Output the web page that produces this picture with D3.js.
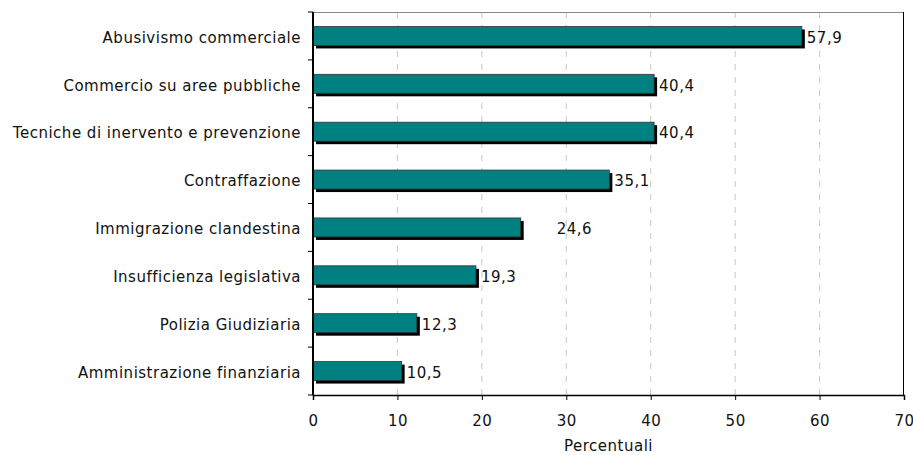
<!DOCTYPE html>
<html>
<head>
<meta charset="utf-8">
<script src="https://cdn.jsdelivr.net/npm/d3@7"></script>
<style>
  body { margin: 0; background: #fff; }
  text { font-family: "DejaVu Sans", Verdana, sans-serif; fill: #111; letter-spacing: 0.5px; }
</style>
</head>
<body>
<svg id="chart" width="913" height="455"></svg>
<script>
// categorie e valori (percentuali)
const categories = [
  "Abusivismo commerciale",
  "Commercio su aree pubbliche",
  "Tecniche di inervento e prevenzione",
  "Contraffazione",
  "Immigrazione clandestina",
  "Insufficienza legislativa",
  "Polizia Giudiziaria",
  "Amministrazione finanziaria"
];
const values = [57.9, 40.4, 40.4, 35.1, 24.6, 19.3, 12.3, 10.5];
const labels = ["57,9", "40,4", "40,4", "35,1", "24,6", "19,3", "12,3", "10,5"];
const xTicks = [0, 10, 20, 30, 40, 50, 60, 70];

const margin = { top: 12, right: 9, bottom: 60, left: 313 };
const width = 913, height = 455;
const fontSize = 15;
const svg = d3.select("#chart");

const x = d3.scaleLinear().domain([0, 70]).range([margin.left, width - margin.right]);
const y = d3.scaleBand().domain(categories).range([margin.top, height - margin.bottom]);

// griglia tratteggiata
svg.append("g").selectAll("line")
  .data(xTicks.slice(1, -1))
  .join("line")
  .attr("x1", d => x(d)).attr("x2", d => x(d))
  .attr("y1", margin.top).attr("y2", height - margin.bottom)
  .attr("stroke", "#c8c8c8")
  .attr("stroke-dasharray", "6,7");

// bordo superiore e destro
svg.append("line")
  .attr("x1", x(0)).attr("x2", x(70))
  .attr("y1", margin.top + 0.5).attr("y2", margin.top + 0.5)
  .attr("stroke", "#888");
svg.append("line")
  .attr("x1", x(70) - 0.5).attr("x2", x(70) - 0.5)
  .attr("y1", margin.top).attr("y2", height - margin.bottom)
  .attr("stroke", "#000");

const barH = 19;
const bars = svg.append("g").selectAll("g")
  .data(categories)
  .join("g");

// ombra
bars.append("rect")
  .attr("x", x(0) + 3)
  .attr("y", d => y(d) + (y.bandwidth() - barH) / 2 + 3)
  .attr("width", (d, i) => x(values[i]) - x(0))
  .attr("height", barH)
  .attr("fill", "#000");

// barra
bars.append("rect")
  .attr("x", x(0))
  .attr("y", d => y(d) + (y.bandwidth() - barH) / 2)
  .attr("width", (d, i) => x(values[i]) - x(0))
  .attr("height", barH)
  .attr("fill", "#008080")
  .attr("stroke", "#333")
  .attr("stroke-width", 0.8);

// etichette valori (24,6 spostata come nell'originale)
bars.append("text")
  .attr("x", (d, i) => x(values[i]) + (i === 4 ? 36 : 5))
  .attr("y", d => y(d) + y.bandwidth() / 2)
  .attr("dy", "0.45em")
  .attr("font-size", fontSize)
  .text((d, i) => labels[i]);

// asse X
const xAxis = svg.append("g")
  .attr("transform", `translate(0,${height - margin.bottom})`)
  .call(d3.axisBottom(x).tickValues(xTicks).tickSize(5).tickPadding(15));
xAxis.select(".domain").attr("stroke", "#000").attr("stroke-width", 1.5);
xAxis.selectAll(".tick line").attr("stroke", "#000");
xAxis.selectAll("text").attr("font-size", fontSize).attr("font-family", "DejaVu Sans, Verdana, sans-serif").attr("fill", "#111");

// asse Y
const yAxis = svg.append("g")
  .attr("transform", `translate(${margin.left},0)`)
  .call(d3.axisLeft(y).tickSize(0).tickPadding(12));
yAxis.select(".domain").remove();
yAxis.selectAll("text").attr("font-size", fontSize).attr("font-family", "DejaVu Sans, Verdana, sans-serif").attr("fill", "#111").attr("dy", "0.45em");

// tacche di separazione tra le categorie
const bounds = categories.map(d => y(d)).concat([height - margin.bottom]);
svg.append("g").selectAll("line")
  .data(bounds)
  .join("line")
  .attr("x1", margin.left - 5).attr("x2", margin.left)
  .attr("y1", d => d).attr("y2", d => d)
  .attr("stroke", "#000");
svg.append("line")
  .attr("x1", margin.left).attr("x2", margin.left)
  .attr("y1", margin.top).attr("y2", height - margin.bottom)
  .attr("stroke", "#000").attr("stroke-width", 2);

// titolo asse
svg.append("text")
  .attr("x", (x(0) + x(70)) / 2)
  .attr("y", 451)
  .attr("text-anchor", "middle")
  .attr("font-size", fontSize)
  .text("Percentuali");
</script>
</body>
</html>
